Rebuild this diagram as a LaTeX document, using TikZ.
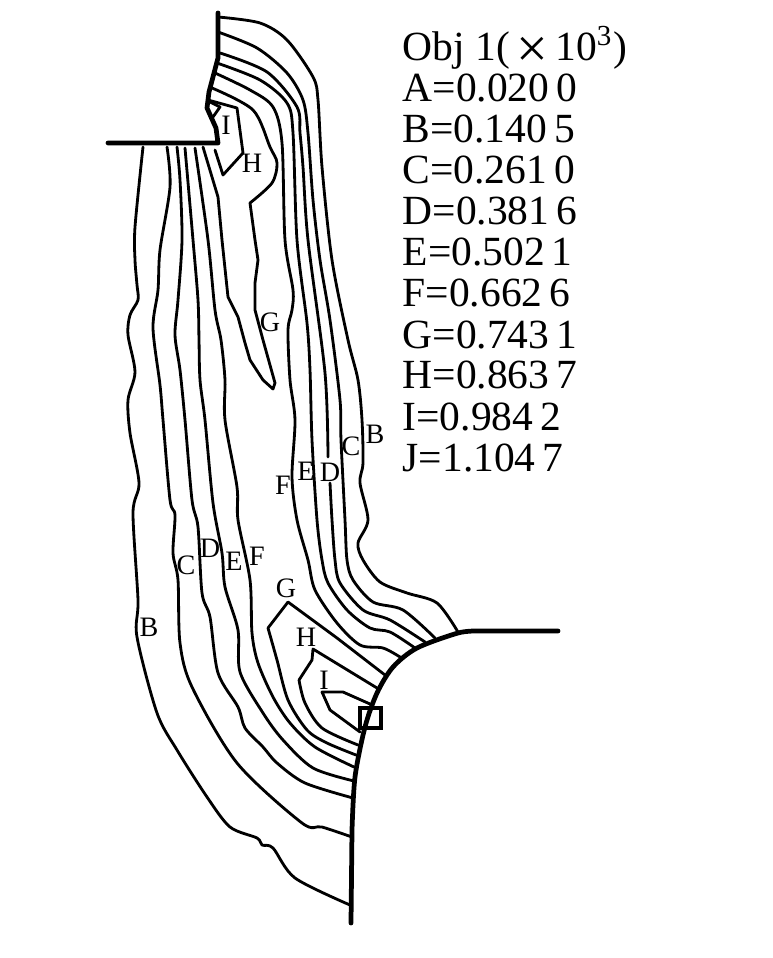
\documentclass[tikz,border=0pt]{standalone}
\usepackage{fontspec}
\setmainfont{Liberation Serif}
\tikzset{
	contour/.style={line width=0.8pt, line join=round, line cap=round},
	wall/.style={line width=1.35pt, line join=round, line cap=round},
	curvelabel/.style={font=\fontsize{8}{8}\selectfont, inner sep=0pt},
	legendline/.style={font=\fontsize{11.8}{12}\selectfont, inner sep=0pt, anchor=base west}
}
\begin{document}
\begin{tikzpicture}[x=0.01cm,y=-0.01cm]
	\useasboundingbox (0,0) rectangle (772,958);
	
	% outer wall
	\draw[wall] (108,143) -- (218,143) -- (216,128) -- (207,108) -- (209,92) -- (218,58) -- (218,13);
	\draw[wall] (558,631) -- (478,631) plot[smooth, tension=0.5] coordinates {(478,631) (458,633) (417,648) (393,667) (377,693) (365,727) (355,777) (352,830)} -- (351,923);
	
	% right side of the lines
	\draw[contour] plot[smooth, tension=0.5] coordinates {(218,17) (260,23) (287,40) (313,77) (318,100) (322,167) (332,260) (348,340) (358,380) (362,420) (363,463) (360,483) (368,520) (358,543) (363,560) (380,582) (407,593) (437,603) (458,632)};
	\draw[contour] plot[smooth, tension=0.5] coordinates {(218,32) (257,48) (287,73) (303,100) (308,133) (313,200) (320,260) (330,320) (340,400) (341,440) (345,520) (347,560) (353,580) (373,602) (403,610) (435,638)};
	\draw[contour] plot[smooth, tension=0.5] coordinates {(220,53) (267,72) (297,107) (300,133) (303,167) (308,240) (325,373) (328,457)};
	\draw[contour] plot[smooth, tension=0.5] coordinates {(330,483) (332,520) (335,560) (340,583) (363,610) (390,620) (425,642)};
	\draw[contour] plot[smooth, tension=0.5] coordinates {(217,63) (260,80) (287,103) (293,133) (297,240) (307,323) (310,370) (312,440) (317,520) (322,560) (328,583) (347,610) (370,628) (390,632) (415,648)};
	\draw[contour] plot[smooth, tension=0.5] coordinates {(215,73) (250,90) (273,107) (282,143) (285,240) (293,290) (292,310) (288,330) (290,380) (295,420) (292,477) (297,520) (308,560) (315,590) (337,623) (360,645) (383,648) (400,657)};
	
	% left side of the lines
	\draw[contour] plot[smooth, tension=0.5] coordinates {(143,147) (135,227) (135,260) (137,285) (138,300) (130,315) (128,335) (135,372) (128,400) (130,433) (139,483) (133,513) (138,600) (137,637) (157,713) (177,750) (207,797) (230,827) (257,838) (262,845) (273,848) (295,878) (350,905)};
	\draw[contour] plot[smooth, tension=0.5] coordinates {(167,147) (170,187) (160,250) (158,290) (153,328) (160,385) (163,420) (170,500) (175,515) (173,553) (178,580) (180,643) (192,687) (237,763) (302,823) (322,827) (352,837)};
	\draw[contour] plot[smooth, tension=0.5] coordinates {(177,147) (180,180) (182,240) (178,300) (175,335) (180,370) (185,420) (192,500) (198,527) (202,593) (210,617) (218,673) (238,707) (245,728) (263,747) (277,763) (305,783) (353,798)};
	\draw[contour] plot[smooth, tension=0.5] coordinates {(185,148) (193,240) (198,300) (199,340) (200,380) (205,420) (213,503) (222,553) (225,587) (238,630) (240,672) (263,713) (283,740) (313,768) (354,781)};
	\draw[contour] plot[smooth, tension=0.5] coordinates {(195,148) (208,240) (215,310) (221,340) (225,380) (225,420) (237,487) (238,520) (250,580) (252,633) (258,663) (273,697) (290,723) (315,747) (354,767)};
	
	% G, upper part
	\draw[contour] plot[smooth, tension=0.5] coordinates {(212,88) (253,110) (270,147) (277,163) (272,183) (250,203)} -- (255,240) -- (258,260) -- (255,283) -- (255,310) -- (263,340) -- (275,383) -- (273,389) -- (263,380) -- (250,360) -- (245,343) -- (238,317) -- (228,297) -- (222,240) -- (218,197) -- (203,147);
	% H and I, upper part
	\draw[contour] (208,100) -- (237,108) -- (243,153) -- (223,175) -- (215,150);
	\draw[contour] (210,102) -- (220,107) -- (213,117);
	
	% G, H, I near the corner
	\draw[contour] (385,675) -- (337,638) -- (288,602) -- (268,628) plot[smooth, tension=0.5] coordinates {(268,628) (277,660) (288,700) (307,730) (327,743) (356,755)};
	\draw[contour] (377,688) -- (313,649) -- (312,660) -- (299,680) plot[smooth, tension=0.5] coordinates {(299,680) (305,703) (322,728) (358,745)};
	\draw[contour] (370,704) -- (343,692) -- (322,692) -- (330,710) -- (360,732);
	
	% hot spot
	\draw[line width=1pt] (360,708) rectangle (381,728);
	
	% labels on the lines
	\node[curvelabel] (labI) at (226,125) {I};
	\node[curvelabel] (labH) at (252,163) {H};
	\node[curvelabel] (labG) at (270,322) {G};
	\node[curvelabel] (labB) at (375,434) {B};
	\node[curvelabel] (labC) at (351,446) {C};
	\node[curvelabel] (labD) at (330,472) {D};
	\node[curvelabel] (labE) at (306,471) {E};
	\node[curvelabel] (labF) at (283,485) {F};
	\node[curvelabel] (labBb) at (149,627) {B};
	\node[curvelabel] (labCb) at (186,565) {C};
	\node[curvelabel] (labDb) at (210,548) {D};
	\node[curvelabel] (labEb) at (234,561) {E};
	\node[curvelabel] (labFb) at (257,556) {F};
	\node[curvelabel] (labGb) at (286,588) {G};
	\node[curvelabel] (labHb) at (306,637) {H};
	\node[curvelabel] (labIb) at (324,680) {I};
	
	% legend
	\node[legendline] (legTitle) at (402,61) {Obj 1(\,\raisebox{-0.16em}{\fontsize{16}{16}\selectfont ×}\,10\textsuperscript{3})};
	\node[legendline] (legA) at (402,102) {A=0.020\,0};
	\node[legendline] (legB) at (402,143) {B=0.140\,5};
	\node[legendline] (legC) at (402,184) {C=0.261\,0};
	\node[legendline] (legD) at (402,225) {D=0.381\,6};
	\node[legendline] (legE) at (402,266) {E=0.502\,1};
	\node[legendline] (legF) at (402,307) {F=0.662\,6};
	\node[legendline] (legG) at (402,348) {G=0.743\,1};
	\node[legendline] (legH) at (402,389) {H=0.863\,7};
	\node[legendline] (legI) at (402,430) {I=0.984\,2};
	\node[legendline] (legJ) at (402,471) {J=1.104\,7};
\end{tikzpicture}
\end{document}
